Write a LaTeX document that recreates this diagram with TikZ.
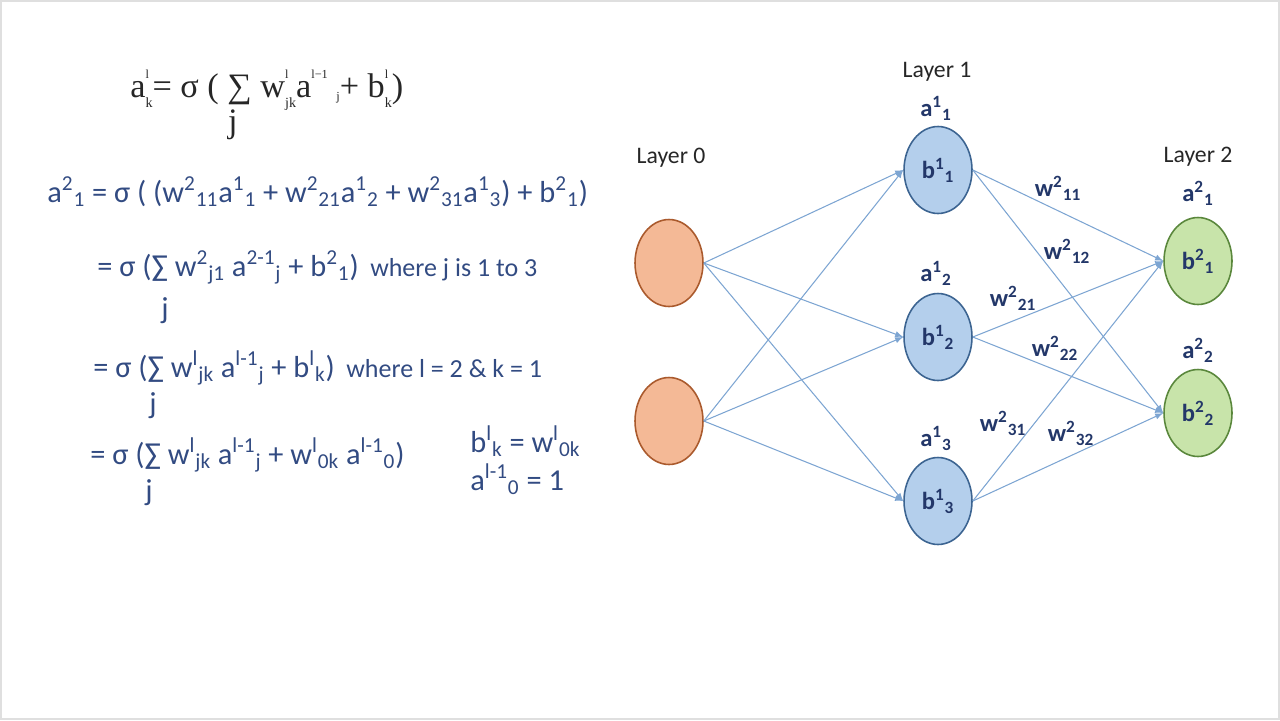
\documentclass[tikz,border=0pt]{standalone}
\usepackage{fontspec}
\setmainfont{Carlito}
\newfontfamily\timesfont{Liberation Serif}
\usetikzlibrary{arrows,shapes,positioning}
\definecolor{nnorange}{RGB}{244,185,150}
\definecolor{nnorangedark}{RGB}{170,90,45}
\definecolor{nnblue}{RGB}{180,207,236}
\definecolor{nnbluedark}{RGB}{60,100,145}
\definecolor{nngreen}{RGB}{200,228,170}
\definecolor{nngreendark}{RGB}{90,135,60}
\definecolor{nnedge}{RGB}{125,165,210}
\definecolor{nntext}{RGB}{50,75,130}
\definecolor{nnlabel}{RGB}{35,55,105}
\tikzstyle{neuron} = [ellipse, minimum width=1.36cm, minimum height=1.74cm, inner sep=0pt, line width=0.9pt]
\tikzstyle{inlayer} = [neuron, draw=nnorangedark, fill=nnorange]
\tikzstyle{hidden} = [neuron, draw=nnbluedark, fill=nnblue]
\tikzstyle{outlayer} = [neuron, draw=nngreendark, fill=nngreen]
\tikzstyle{arrow} = [->,>=latex, color=nnedge, line width=0.6pt]
\tikzstyle{layertitle} = [font=\fontsize{13.5}{16}\selectfont, text=black!85]
\tikzstyle{nnlbl} = [font=\bfseries\fontsize{14}{16}\selectfont, text=nnlabel]
\tikzstyle{eqn} = [font=\fontsize{17.3}{20}\selectfont, text=nntext, anchor=base west, inner sep=0pt]
\tikzstyle{topfont} = [font=\timesfont\fontsize{19.5}{22}\selectfont, text=black!85]
\newcommand{\nnsup}[1]{\textsuperscript{#1}}
\newcommand{\nnsub}[1]{\textsubscript{#1}}
\newcommand{\nnwhere}[1]{{\fontsize{14.8}{18}\selectfont #1}}
\newcommand{\stackidx}[2]{\makebox[0pt][l]{\raisebox{0.55em}{\scriptsize #1}}\raisebox{-0.3em}{\footnotesize #2}}

\begin{document}
\begin{tikzpicture}[x=0.02cm, y=-0.02cm]
\useasboundingbox (0,0) rectangle (1280,720);
\draw[gray!25, line width=0.6pt] (1,1) rectangle (1279,719);

% formulas
\node[eqn, topfont] (topeq) at (130,97)
  {a\stackidx{l}{k}= σ ( ∑ w\stackidx{l}{jk}a\raisebox{0.55em}{\scriptsize l−1} \raisebox{-0.1em}{\scriptsize j}+ b\stackidx{l}{k})};
\node[topfont] (topj) at (233,125) {j};

\node[eqn] (eqa) at (47,202) {a\nnsup{2}\nnsub{1} = σ ( (w\nnsup{2}\nnsub{11}a\nnsup{1}\nnsub{1} + w\nnsup{2}\nnsub{21}a\nnsup{1}\nnsub{2} + w\nnsup{2}\nnsub{31}a\nnsup{1}\nnsub{3}) + b\nnsup{2}\nnsub{1})};
\node[eqn] (eqb) at (97,276) {= σ (∑ w\nnsup{2}\nnsub{j1} a\nnsup{2-1}\nnsub{j} + b\nnsup{2}\nnsub{1})\hspace{0.15em} \nnwhere{where j is 1 to 3}};
\node[eqn] (jb) at (161,318) {j};
\node[eqn] (eqc) at (93,377) {= σ (∑ w\nnsup{l}\nnsub{jk} a\nnsup{l-1}\nnsub{j} + b\nnsup{l}\nnsub{k})\hspace{0.15em} \nnwhere{where l = 2 \& k = 1}};
\node[eqn] (jc) at (149,413) {j};
\node[eqn] (eqd) at (90,464) {= σ (∑ w\nnsup{l}\nnsub{jk} a\nnsup{l-1}\nnsub{j} + w\nnsup{l}\nnsub{0k} a\nnsup{l-1}\nnsub{0})};
\node[eqn] (jd) at (145,500) {j};
\node[eqn] (biaseq) at (470,452) {b\nnsup{l}\nnsub{k} = w\nnsup{l}\nnsub{0k}};
\node[eqn] (oneeq) at (470,490) {a\nnsup{l-1}\nnsub{0} = 1};

% network
\node[inlayer] (x1) at (669,263) {};
\node[inlayer] (x2) at (669,421) {};
\node[hidden] (h1) at (938,170) {\textcolor{nnlabel}{\bfseries\fontsize{14}{16}\selectfont b\nnsup{1}\nnsub{1}}};
\node[hidden] (h2) at (938,337) {\textcolor{nnlabel}{\bfseries\fontsize{14}{16}\selectfont b\nnsup{1}\nnsub{2}}};
\node[hidden] (h3) at (938,501) {\textcolor{nnlabel}{\bfseries\fontsize{14}{16}\selectfont b\nnsup{1}\nnsub{3}}};
\node[outlayer] (o1) at (1198,261) {\textcolor{nnlabel}{\bfseries\fontsize{14}{16}\selectfont b\nnsup{2}\nnsub{1}}};
\node[outlayer] (o2) at (1198,413) {\textcolor{nnlabel}{\bfseries\fontsize{14}{16}\selectfont b\nnsup{2}\nnsub{2}}};

\node[layertitle] (l0) at (671,158) {Layer 0};
\node[layertitle] (l1) at (937,72) {Layer 1};
\node[layertitle] (l2) at (1198,157) {Layer 2};

\node[nnlbl] (ah1) at (936,108) {a\nnsup{1}\nnsub{1}};
\node[nnlbl] (ah2) at (936,273) {a\nnsup{1}\nnsub{2}};
\node[nnlbl] (ah3) at (936,438) {a\nnsup{1}\nnsub{3}};
\node[nnlbl] (ao1) at (1198,193) {a\nnsup{2}\nnsub{1}};
\node[nnlbl] (ao2) at (1198,350) {a\nnsup{2}\nnsub{2}};

\foreach \i in {1,2}
  \foreach \j in {1,2,3}
    \draw[arrow] (x\i.east) -- (h\j.west);
\foreach \j in {1,2,3}
  \foreach \k in {1,2}
    \draw[arrow] (h\j.east) -- (o\k.west);

\node[nnlbl] (w11) at (1058,188) {w\nnsup{2}\nnsub{11}};
\node[nnlbl] (w12) at (1067,251) {w\nnsup{2}\nnsub{12}};
\node[nnlbl] (w21) at (1013,298) {w\nnsup{2}\nnsub{21}};
\node[nnlbl] (w22) at (1055,348) {w\nnsup{2}\nnsub{22}};
\node[nnlbl] (w31) at (1003,423) {w\nnsup{2}\nnsub{31}};
\node[nnlbl] (w32) at (1071,433) {w\nnsup{2}\nnsub{32}};
\end{tikzpicture}
\end{document}
